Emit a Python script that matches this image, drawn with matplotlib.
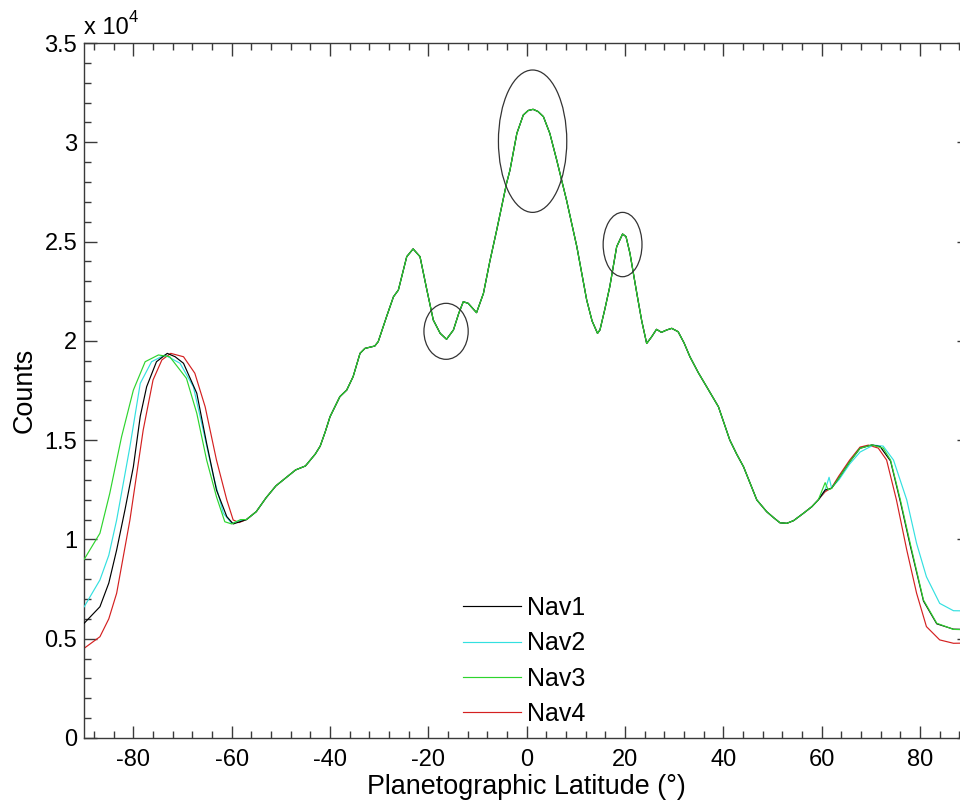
import matplotlib
matplotlib.use("Agg")
import matplotlib.pyplot as plt
from matplotlib.patches import Ellipse
from matplotlib.ticker import MultipleLocator, FuncFormatter

plt.rcParams['font.family'] = ['Liberation Sans', 'DejaVu Sans']
plt.rcParams['axes.unicode_minus'] = False

# Shared central profile (all four navigations agree here)
mid_lat = [-57, -55, -53, -51, -49, -47, -45, -43, -42, -41, -40, -38, -36.6, -35.3,
           -33.9, -32.9, -30.9, -30.2, -28.5, -27.1, -26.1, -24.4, -23.1, -21.7, -20.3,
           -19.0, -17.6, -16.3, -14.9, -13.8, -12.9, -11.9, -10.2, -8.8, -7.5, -6.1,
           -4.1, -3.4, -2.0, -0.7, 0.3, 1.3, 2.3, 3.4, 4.7, 6.1, 8.1, 10.2, 12.2, 13.3,
           14.4, 14.9, 15.9, 16.9, 18.3, 19.5, 20.2, 21.0, 22.4, 23.4, 24.4, 25.4, 26.4,
           27.4, 28.5, 29.5, 30.8, 32.0, 33.2, 34.9, 36.6, 39.0, 41.3, 42.7, 44.1, 46.8,
           48.8, 50.2, 51.5, 52.9, 54.3, 56.3, 58.0]
mid_counts = [11000, 11400, 12100, 12700, 13100, 13500, 13700, 14300, 14700, 15400,
              16180, 17190, 17525, 18200, 19370, 19620, 19740, 19960, 21220, 22220,
              22560, 24240, 24630, 24240, 22560, 21050, 20380, 20080, 20550, 21400,
              21970, 21890, 21420, 22390, 24000, 25580, 27930, 28600, 30450, 31370,
              31600, 31660, 31550, 31290, 30450, 29110, 27090, 24740, 22060, 21000,
              20380, 20550, 21600, 22730, 24740, 25380, 25250, 24410, 22390, 21000,
              19870, 20200, 20580, 20430, 20550, 20630, 20460, 19900, 19200, 18400,
              17690, 16680, 15010, 14300, 13660, 11990, 11400, 11100, 10840, 10810,
              10950, 11320, 11650]

# Southern wings
nav1_s_lat = [-90, -86.8, -85, -83.4, -81.7, -80, -78.6, -77.3, -75.3, -73.1, -71.5,
              -69.8, -67.1, -65.1, -63.1, -61.0, -59.7, -58.2]
nav1_s_cnt = [5780, 6610, 7800, 9470, 11500, 13660, 16200, 17690, 18950, 19370, 19200,
              18870, 17360, 14840, 12490, 11150, 10780, 10900]
nav2_s_lat = [-90, -86.8, -85, -83.4, -80.7, -78.6, -76.3, -73.6, -70.5, -67.8, -65.8,
              -63.7, -61.7, -60, -58.2]
nav2_s_cnt = [6610, 7960, 9200, 10980, 14670, 17860, 18950, 19290, 18870, 17690, 15510,
              13160, 11320, 10810, 10950]
nav3_s_lat = [-90, -86.8, -84.8, -82.4, -80.0, -77.6, -74.9, -72.6, -69.2, -67.1, -65.1,
              -63.1, -61.4, -60, -58.2]
nav3_s_cnt = [9000, 10310, 12320, 15170, 17520, 18950, 19290, 19200, 18110, 16350, 14000,
              12150, 10890, 10780, 11000]
nav4_s_lat = [-90, -86.8, -85, -83.4, -80.7, -78.0, -76.0, -74.2, -72.4, -69.8, -67.5,
              -65.4, -63.1, -61.0, -59.7, -58.5]
nav4_s_cnt = [4520, 5100, 6000, 7290, 10980, 15510, 18030, 19040, 19370, 19200, 18370,
              16680, 14000, 11990, 10980, 10850]

# Northern wings
nav1_n_lat = [59.3, 60.7, 62.0, 63.5, 65.7, 67.8, 70.2, 71.9, 74.0, 76.0, 78.0, 80.7,
              83.4, 86.8, 89.5]
nav1_n_cnt = [11990, 12490, 12570, 13100, 13910, 14590, 14760, 14670, 13950, 11900, 9700,
              6900, 5750, 5480, 5470]
nav2_n_lat = [59.3, 60.7, 61.5, 62.0, 63.5, 65.7, 67.8, 70.5, 72.5, 74.6, 77.3, 79.3,
              81.3, 84.0, 86.8, 89.5]
nav2_n_cnt = [11990, 12490, 13130, 12600, 13000, 13800, 14400, 14750, 14700, 14000, 11990,
              9800, 8120, 6780, 6410, 6400]
nav3_n_lat = [59.3, 60.7, 61.3, 62.0, 63.5, 65.7, 67.8, 70.2, 72.5, 74.0, 76.0, 78.0,
              80.7, 83.4, 86.8, 89.5]
nav3_n_cnt = [11990, 12860, 12500, 12570, 13100, 13910, 14590, 14760, 14600, 14000, 11990,
              9800, 6950, 5780, 5470, 5450]
nav4_n_lat = [59.3, 60.7, 62.0, 63.5, 65.7, 67.8, 69.5, 71.5, 73.2, 75.2, 77.3, 79.3,
              81.3, 84.0, 86.8, 89.5]
nav4_n_cnt = [11990, 12400, 12600, 13200, 14000, 14650, 14750, 14600, 14000, 11990, 9470,
              7290, 5610, 4940, 4770, 4780]

labels = ['Nav1', 'Nav2', 'Nav3', 'Nav4']
colors = ['#000000', '#33e0e0', '#2ed42e', '#d42020']
z_order = [4, 3, 5, 2]

# Highlighted features: (centre lat, centre counts, width deg, height counts)
ellipse_c_lat = [1.2, 19.5, -16.4]
ellipse_c_cnt = [30055, 24850, 20480]
ellipse_w = [13.9, 7.9, 9.0]
ellipse_h = [7170, 3240, 2820]

series = [
    (nav1_s_lat, nav1_s_cnt, nav1_n_lat, nav1_n_cnt),
    (nav2_s_lat, nav2_s_cnt, nav2_n_lat, nav2_n_cnt),
    (nav3_s_lat, nav3_s_cnt, nav3_n_lat, nav3_n_cnt),
    (nav4_s_lat, nav4_s_cnt, nav4_n_lat, nav4_n_cnt),
]

W, H = 960, 806
fig = plt.figure(figsize=(W / 100, H / 100), dpi=100)
ax_left, ax_bottom = 84.2, 806 - 738
ax_w, ax_h = 885.0, 695.0
ax = fig.add_axes([ax_left / W, ax_bottom / H, ax_w / W, ax_h / H])

for (slat, scnt, nlat, ncnt), lab, col, z in zip(series, labels, colors, z_order):
    x = slat + mid_lat + nlat
    y = scnt + mid_counts + ncnt
    ax.plot(x, y, color=col, lw=0.85, label=lab, zorder=z)

for cx, cy, w, h in zip(ellipse_c_lat, ellipse_c_cnt, ellipse_w, ellipse_h):
    ax.add_patch(Ellipse((cx, cy), w, h, fill=False, edgecolor='#333333', lw=0.9,
                         zorder=6))

ax.set_xlim(-90, 90)
ax.set_ylim(0, 35000)
ax.xaxis.set_major_locator(MultipleLocator(20))
ax.xaxis.set_minor_locator(MultipleLocator(4))
ax.yaxis.set_major_locator(MultipleLocator(5000))
ax.yaxis.set_minor_locator(MultipleLocator(1000))
ax.yaxis.set_major_formatter(FuncFormatter(lambda v, p: f"{v / 1e4:g}"))

spine_col = '#3a3a3a'
for s in ax.spines.values():
    s.set_color(spine_col)
    s.set_linewidth(1.0)
ax.tick_params(which='both', direction='in', top=True, right=True, colors=spine_col,
               labelcolor='black', width=1.0)
ax.tick_params(which='major', length=9, labelsize=17)
ax.tick_params(axis='x', which='major', pad=8)
ax.tick_params(axis='y', which='major', pad=5)
ax.tick_params(which='minor', length=5)

ax.set_xlabel('Planetographic Latitude (°)', fontsize=19.4, labelpad=2)
ax.set_ylabel('Counts', fontsize=19.4, labelpad=5)

fig.text(84 / W, 1 - 34 / H, 'x 10', fontsize=17, ha='left', va='baseline')
fig.text(129 / W, 1 - 22 / H, '4', fontsize=12, ha='left', va='baseline')

leg = ax.legend(loc='upper left', bbox_to_anchor=(463 / W, 1 - 596 / H),
                bbox_transform=fig.transFigure, frameon=False, fontsize=18,
                handlelength=2.3, handletextpad=0.25, labelspacing=0.45, borderpad=0,
                borderaxespad=0)

fig.savefig('out.png', dpi=100, facecolor='white')
